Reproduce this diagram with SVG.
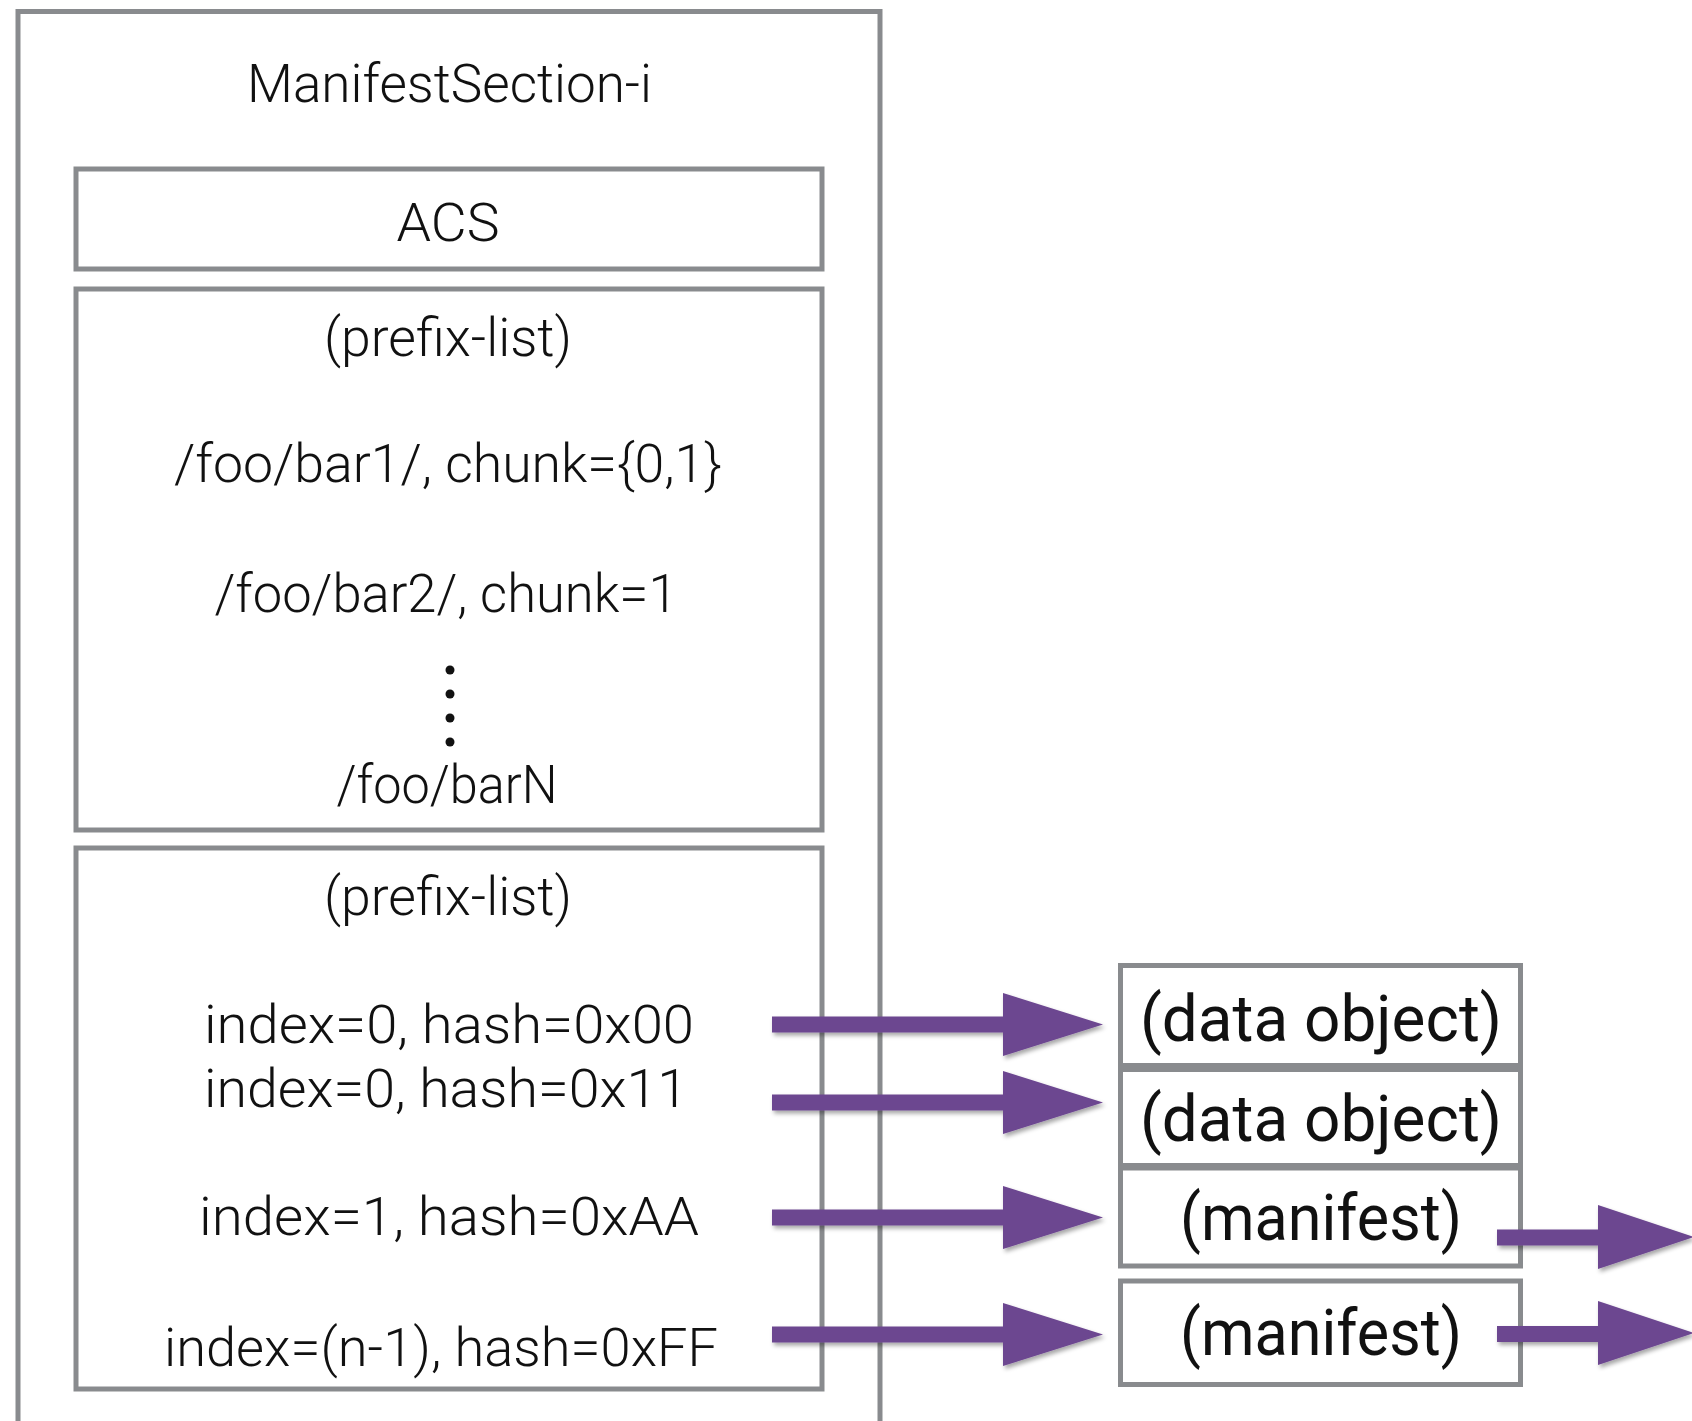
<svg xmlns="http://www.w3.org/2000/svg" width="1692" height="1421" viewBox="0 0 1692 1421">
  <style>
    .box { fill: #ffffff; stroke: #898b8e; stroke-width: 5; }
    .frame { fill: none; stroke: #898b8e; stroke-width: 5; }
    .lbl { font-family: Roboto, "Liberation Sans", Arial, sans-serif; font-weight: 300; font-size: 53px; fill: #111111; text-anchor: middle; }
    .big { font-weight: 400; font-size: 64px; }
    .arrow { fill: #6c4690; filter: url(#shadow); }
  </style>
  <defs>
    <filter id="shadow" x="-10%" y="-30%" width="130%" height="180%">
      <feDropShadow dx="2" dy="3" stdDeviation="2" flood-color="#000000" flood-opacity="0.35"/>
    </filter>
  </defs>

  <rect width="1692" height="1421" fill="#ffffff"/>

  <!-- outer section frame, open at the bottom -->
  <g id="manifest-section">
    <path class="frame" d="M18,1421 V11.5 H880 V1421"/>
    <text class="lbl" x="449.5" y="102" textLength="405" lengthAdjust="spacingAndGlyphs">ManifestSection-i</text>
  </g>

  <g id="acs">
    <rect class="box" x="76" y="169" width="746" height="100"/>
    <text class="lbl" x="448" y="241" textLength="103" lengthAdjust="spacingAndGlyphs">ACS</text>
  </g>

  <g id="prefix-list-names">
    <rect class="box" x="76" y="289" width="746" height="541"/>
    <text class="lbl" x="448" y="356" textLength="248" lengthAdjust="spacingAndGlyphs">(prefix-list)</text>
    <text class="lbl" x="448" y="482" textLength="548" lengthAdjust="spacingAndGlyphs">/foo/bar1/, chunk={0,1}</text>
    <text class="lbl" x="446" y="612" textLength="463" lengthAdjust="spacingAndGlyphs">/foo/bar2/, chunk=1</text>
    <circle cx="450" cy="670" r="4.5" fill="#111111"/>
    <circle cx="450" cy="694" r="4.5" fill="#111111"/>
    <circle cx="450" cy="718" r="4.5" fill="#111111"/>
    <circle cx="450" cy="742" r="4.5" fill="#111111"/>
    <text class="lbl" x="447" y="803" textLength="221" lengthAdjust="spacingAndGlyphs">/foo/barN</text>
  </g>

  <g id="prefix-list-hashes">
    <rect class="box" x="76" y="848" width="746" height="541"/>
    <text class="lbl" x="448" y="915" textLength="248" lengthAdjust="spacingAndGlyphs">(prefix-list)</text>
    <text class="lbl" x="449" y="1043" textLength="490" lengthAdjust="spacingAndGlyphs">index=0, hash=0x00</text>
    <text class="lbl" x="446" y="1107" textLength="484" lengthAdjust="spacingAndGlyphs">index=0, hash=0x11</text>
    <text class="lbl" x="449" y="1235" textLength="500" lengthAdjust="spacingAndGlyphs">index=1, hash=0xAA</text>
    <text class="lbl" x="441" y="1366" textLength="554" lengthAdjust="spacingAndGlyphs">index=(n-1), hash=0xFF</text>
  </g>

  <g id="data-object-1">
    <rect class="box" x="1120.5" y="965.5" width="400" height="100"/>
    <text class="lbl big" x="1321" y="1041" textLength="362" lengthAdjust="spacingAndGlyphs">(data object)</text>
  </g>
  <g id="data-object-2">
    <rect class="box" x="1120.5" y="1069.5" width="400" height="96"/>
    <text class="lbl big" x="1321" y="1141" textLength="362" lengthAdjust="spacingAndGlyphs">(data object)</text>
  </g>
  <g id="manifest-1">
    <rect class="box" x="1120.5" y="1168" width="400" height="98"/>
    <text class="lbl big" x="1321" y="1240" textLength="282" lengthAdjust="spacingAndGlyphs">(manifest)</text>
  </g>
  <g id="manifest-2">
    <rect class="box" x="1120.5" y="1281" width="400" height="103.5"/>
    <text class="lbl big" x="1321" y="1355" textLength="282" lengthAdjust="spacingAndGlyphs">(manifest)</text>
  </g>

  <!-- block arrows: prefix entries to their objects, manifests onward -->
  <g id="connectors">
    <path class="arrow" d="M772,1016.5 H1003 V993 L1103,1024.5 L1003,1056 V1032.5 H772 Z"/>
    <path class="arrow" d="M772,1094.5 H1003 V1071 L1103,1102.5 L1003,1134 V1110.5 H772 Z"/>
    <path class="arrow" d="M772,1209.5 H1003 V1186 L1103,1217.5 L1003,1249 V1225.5 H772 Z"/>
    <path class="arrow" d="M772,1326.5 H1003 V1303 L1103,1334.5 L1003,1366 V1342.5 H772 Z"/>
    <path class="arrow" d="M1497,1229.5 H1598 V1205 L1694,1237 L1598,1269 V1245.5 H1497 Z"/>
    <path class="arrow" d="M1497,1326 H1598 V1301 L1694,1333 L1598,1365 V1342 H1497 Z"/>
  </g>
</svg>
